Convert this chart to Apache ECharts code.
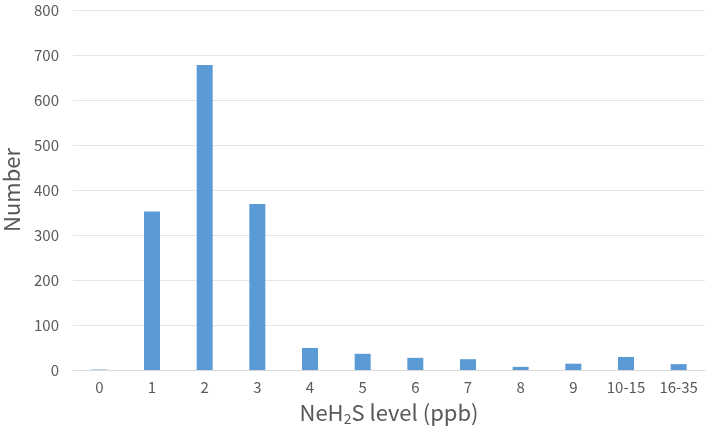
<!DOCTYPE html>
<html><head><meta charset="utf-8">
<script src="https://cdn.jsdelivr.net/npm/echarts@6/dist/echarts.min.js"></script>
<style>html,body{margin:0;padding:0;background:#fff}#c{width:709px;height:436px}</style>
</head><body><div id="c"></div>
<script>
const categories = ['0','1','2','3','4','5','6','7','8','9','10-15','16-35'];
const counts = [1, 352, 678, 369, 49, 36, 27, 24, 7, 14, 29, 13];
const yTicks = [0, 100, 200, 300, 400, 500, 600, 700, 800];

const FONT = '"Noto Sans CJK SC", "Noto Sans", sans-serif';
const chart = echarts.init(document.getElementById('c'), null, {renderer: 'canvas'});
chart.setOption({
  animation: false,
  backgroundColor: '#fff',
  textStyle: {fontFamily: FONT},
  grid: {left: 73, right: 4, top: 10, bottom: 66, containLabel: false, outerBoundsMode: 'none'},
  xAxis: {
    type: 'category',
    data: categories,
    axisLine: {lineStyle: {color: '#d9d9d9', width: 1}},
    axisTick: {show: false},
    axisLabel: {color: '#595959', fontSize: 15, margin: 10, fontFamily: FONT},
    name: '{a|NeH}{s|2}{a|S level (ppb)}',
    nameLocation: 'middle',
    nameGap: 30,
    nameTextStyle: {
      rich: {
        a: {fontSize: 22, color: '#595959', fontFamily: FONT, lineHeight: 26},
        s: {fontSize: 14, color: '#595959', fontFamily: FONT, lineHeight: 26, verticalAlign: 'bottom', padding: [10, 0, 0, 0]}
      }
    }
  },
  yAxis: {
    type: 'value',
    min: yTicks[0],
    max: yTicks[yTicks.length - 1],
    interval: 100,
    axisLine: {show: false},
    axisTick: {show: false},
    splitLine: {lineStyle: {color: '#e5e5e5', width: 1}},
    axisLabel: {color: '#595959', fontSize: 15, margin: 14, fontFamily: FONT},
    name: 'Number',
    nameLocation: 'middle',
    nameGap: 48,
    nameTextStyle: {fontSize: 22, color: '#595959', fontFamily: FONT}
  },
  series: [{
    type: 'bar',
    data: counts,
    barWidth: 16,
    itemStyle: {color: '#5B9BD5'}
  }]
});
</script></body></html>
